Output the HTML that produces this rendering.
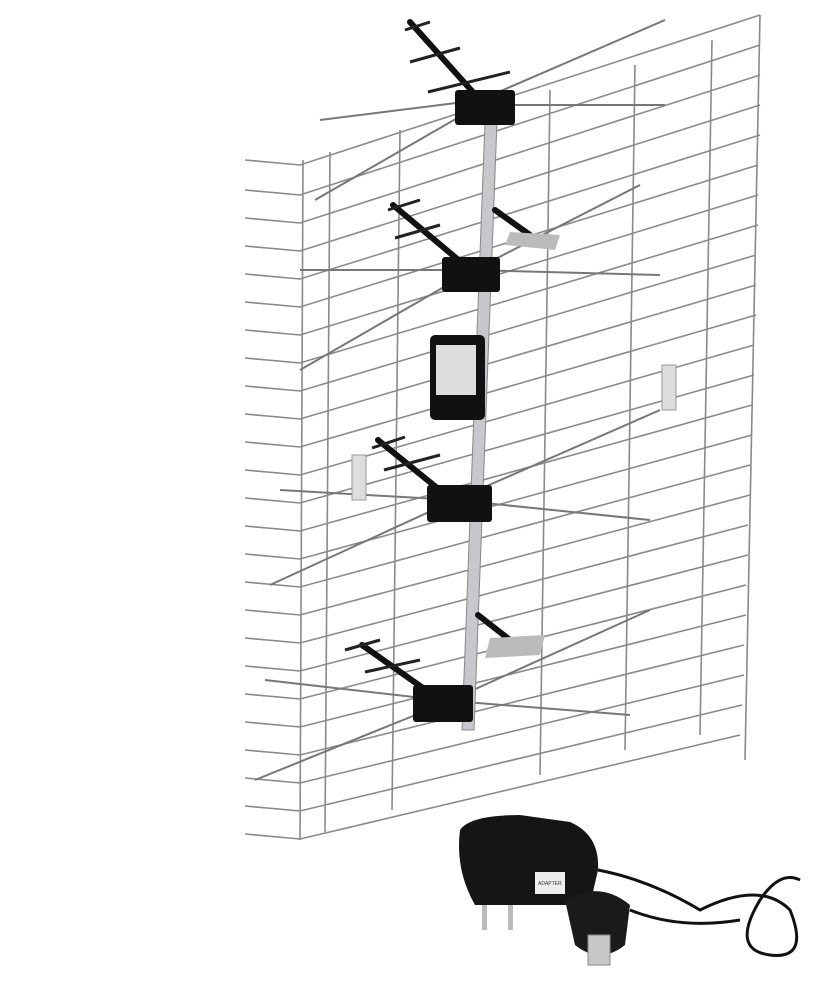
<!DOCTYPE html>
<html><head><meta charset="utf-8"><style>
html,body{margin:0;padding:0;background:#fff;}
svg{display:block}
</style></head><body>
<svg width="837" height="1000" viewBox="0 0 837 1000" xmlns="http://www.w3.org/2000/svg">
<rect width="837" height="1000" fill="#fff"/>
<g stroke="#8a8a8a" stroke-width="1.6" fill="none">
<!-- horizontal slanted wires with left bend -->
<path d="M245 160 L300 165 L760 15"/>
<path d="M245 190 L300 195 L760 45"/>
<path d="M245 218 L300 223 L760 75"/>
<path d="M245 246 L300 251 L760 105"/>
<path d="M245 274 L300 279 L760 135"/>
<path d="M245 302 L300 307 L758 165"/>
<path d="M245 330 L300 335 L758 195"/>
<path d="M245 358 L300 363 L758 225"/>
<path d="M245 386 L300 391 L756 255"/>
<path d="M245 414 L300 419 L756 285"/>
<path d="M245 442 L300 447 L756 315"/>
<path d="M245 470 L300 475 L754 345"/>
<path d="M245 498 L300 503 L754 375"/>
<path d="M245 526 L300 531 L752 405"/>
<path d="M245 554 L300 559 L752 435"/>
<path d="M245 582 L300 587 L750 465"/>
<path d="M245 610 L300 615 L750 495"/>
<path d="M245 638 L300 643 L748 525"/>
<path d="M245 666 L300 671 L748 555"/>
<path d="M245 694 L300 699 L746 585"/>
<path d="M245 722 L300 727 L746 615"/>
<path d="M245 750 L300 755 L744 645"/>
<path d="M245 778 L300 783 L744 675"/>
<path d="M245 806 L300 811 L742 705"/>
<path d="M245 834 L300 839 L740 735"/>
<!-- verticals -->
<path d="M303 160 L300 840"/>
<path d="M330 152 L325 832"/>
<path d="M400 130 L392 810"/>
<path d="M550 90 L540 775"/>
<path d="M635 65 L625 750"/>
<path d="M712 40 L700 735"/>
<path d="M760 15 L745 760"/>
</g>
<!-- dipole arms -->
<g stroke="#777" stroke-width="2" fill="none">
<path d="M320 120 L480 100 L665 20"/>
<path d="M315 200 L480 105 L665 105"/>
<path d="M300 270 L470 270 L660 275"/>
<path d="M300 370 L470 272 L640 185"/>
<path d="M280 490 L455 500 L650 520"/>
<path d="M270 585 L455 500 L660 410"/>
<path d="M265 680 L440 700 L630 715"/>
<path d="M255 780 L440 705 L650 610"/>
</g>
<!-- mast -->
<path d="M486 95 L498 95 L474 730 L462 730 Z" fill="#c8c8cc" stroke="#888" stroke-width="1"/>
<!-- directors -->
<g stroke="#111" stroke-width="6" stroke-linecap="round">
<line x1="410" y1="22" x2="480" y2="100"/>
<line x1="393" y1="205" x2="468" y2="268"/>
<line x1="378" y1="440" x2="452" y2="500"/>
<line x1="362" y1="645" x2="440" y2="700"/>
<line x1="495" y1="210" x2="530" y2="235"/>
<line x1="478" y1="615" x2="510" y2="640"/>
</g>
<g stroke="#222" stroke-width="3">
<line x1="405" y1="30" x2="430" y2="22"/><line x1="410" y1="62" x2="460" y2="48"/><line x1="428" y1="92" x2="510" y2="72"/>
<line x1="388" y1="210" x2="420" y2="200"/><line x1="395" y1="238" x2="440" y2="225"/>
<line x1="372" y1="448" x2="405" y2="437"/><line x1="384" y1="470" x2="440" y2="455"/>
<line x1="345" y1="650" x2="380" y2="640"/><line x1="365" y1="672" x2="420" y2="660"/>
</g>
<!-- blocks -->
<g fill="#111">
<rect x="455" y="90" width="60" height="35" rx="3"/>
<rect x="442" y="257" width="58" height="35" rx="3"/>
<rect x="427" y="485" width="65" height="37" rx="3"/>
<rect x="413" y="685" width="60" height="37" rx="3"/>
<rect x="430" y="335" width="55" height="85" rx="5"/>
</g>
<rect x="436" y="345" width="40" height="50" fill="#ddd"/>
<path d="M510 232 L560 235 L555 250 L505 245 Z" fill="#bbb"/>
<path d="M490 638 L545 635 L540 655 L485 658 Z" fill="#bbb"/>
<rect x="662" y="365" width="14" height="45" fill="#ddd" stroke="#999"/>
<rect x="352" y="455" width="14" height="45" fill="#ddd" stroke="#999"/>
<!-- adapter -->
<path d="M460 830 Q470 815 520 815 L570 822 Q600 835 598 870 L590 905 L475 905 Q455 870 460 830 Z" fill="#151515"/>
<rect x="535" y="872" width="30" height="22" fill="#eee"/>
<text x="538" y="885" font-family="Liberation Sans, sans-serif" font-size="5" fill="#333">ADAPTER</text>
<rect x="482" y="905" width="5" height="25" fill="#bbb"/>
<rect x="508" y="905" width="5" height="25" fill="#bbb"/>
<path d="M565 900 Q600 880 630 905 L625 945 Q600 965 575 945 Z" fill="#1a1a1a"/>
<rect x="588" y="935" width="22" height="30" fill="#c8c8c8" stroke="#888"/>
<g stroke="#111" stroke-width="3" fill="none">
<path d="M598 870 Q650 880 700 910 Q760 880 790 910 Q810 960 770 955 Q730 950 760 900 Q780 870 800 880"/>
<path d="M630 910 Q680 930 740 920"/>
</g>
</svg>
</body></html>
